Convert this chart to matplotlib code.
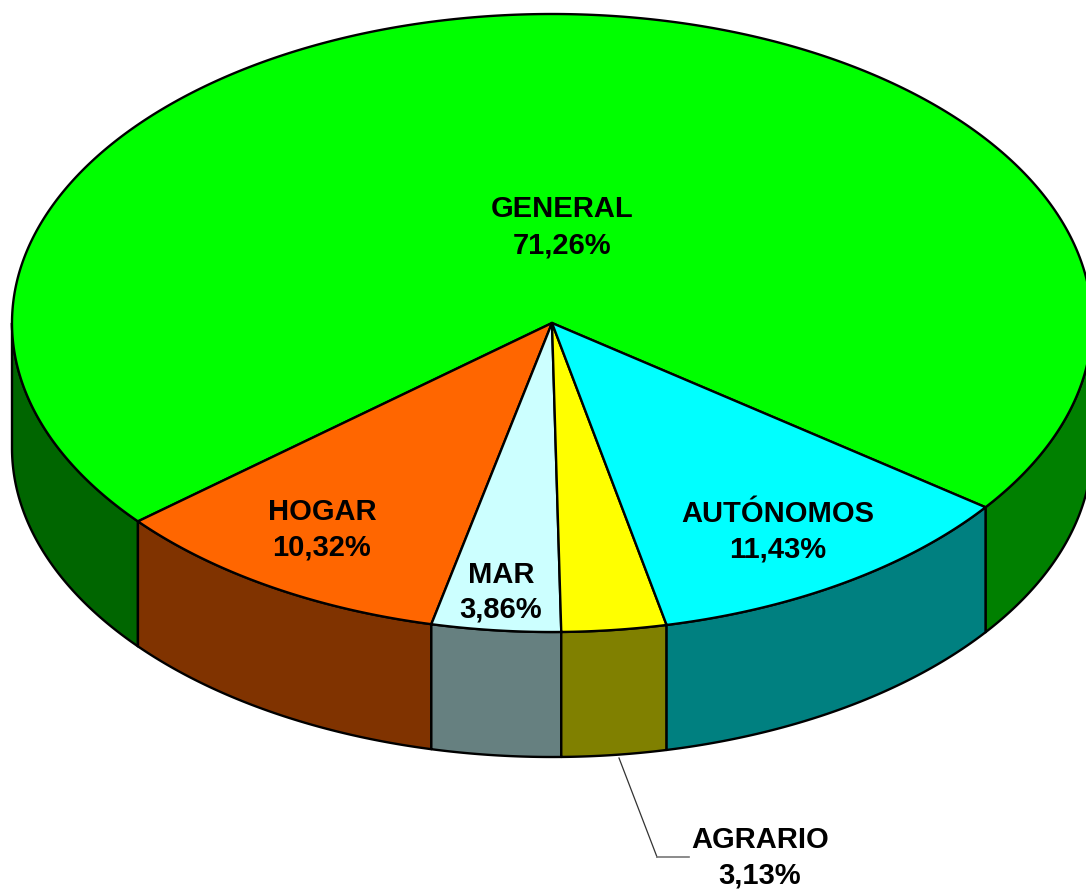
import numpy as np
import matplotlib
matplotlib.use("Agg")
import matplotlib.pyplot as plt
from matplotlib.patches import Polygon

# data (counter-clockwise from the start angle)
labels = ["GENERAL", "HOGAR", "MAR", "AGRARIO", "AUTÓNOMOS"]
shares = [71.26, 10.32, 3.86, 3.13, 11.43]
pct_text = ["71,26%", "10,32%", "3,86%", "3,13%", "11,43%"]
top_colors = ["#00FF00", "#FF6600", "#CCFFFF", "#FFFF00", "#00FFFF"]
side_colors = ["#008000", "#803300", "#668080", "#808000", "#008080"]

# geometry of the 3D pie (pixel coords, y downwards)
cx, cy = 552, 323
ra, rb = 540, 309
depth = 125
start = -36.6

# label x, baseline of name, baseline of percentage
label_pos = {
    "GENERAL": (562, 217, 254),
    "HOGAR": (322, 520, 555),
    "MAR": (501, 583, 618),
    "AUTÓNOMOS": (778, 522, 558),
    "AGRARIO": (760, 848, 884),
}


def arc(t1, t2, n=200):
    t = np.radians(np.linspace(t1, t2, n))
    return np.column_stack([cx + ra * np.cos(t), cy - rb * np.sin(t)])


fig = plt.figure(figsize=(10.86, 8.89), dpi=100)
ax = fig.add_axes([0, 0, 1, 1])
ax.set_xlim(0, 1086)
ax.set_ylim(889, 0)
ax.axis("off")

bounds = start + np.concatenate([[0], np.cumsum(shares)]) * 3.6

# side walls (only the front half, 180..360 deg)
for i in range(len(shares)):
    t1, t2 = bounds[i], bounds[i + 1]
    for lo, hi in [(180, 360), (540, 720), (-180, 0)]:
        a1, a2 = max(t1, lo), min(t2, hi)
        if a2 <= a1:
            continue
        top = arc(a1, a2)
        bot = top[::-1] + [0, depth]
        col = side_colors[i]
        if labels[i] == "GENERAL" and (a1 + a2) / 2 % 360 < 270:
            col = "#006600"
        ax.add_patch(Polygon(np.vstack([top, bot]), closed=True,
                             facecolor=col, edgecolor="black", lw=1.7,
                             joinstyle="round"))

# top face
for i in range(len(shares)):
    pts = np.vstack([[cx, cy], arc(bounds[i], bounds[i + 1], 400)])
    ax.add_patch(Polygon(pts, closed=True, facecolor=top_colors[i],
                         edgecolor="black", lw=1.7, joinstyle="round"))

font = dict(family=["Liberation Sans", "DejaVu Sans"], fontsize=21,
            fontweight="bold", ha="center", va="baseline")
for lab, pct in zip(labels, pct_text):
    x, y1, y2 = label_pos[lab]
    ax.text(x, y1, lab, **font)
    ax.text(x, y2, pct, **font)

# leader line for AGRARIO
ax.plot([619, 657], [758, 857], color="#333333", lw=0.9)
ax.plot([657, 689], [857, 857], color="#777777", lw=1.2)

fig.savefig("out.png", dpi=100)
